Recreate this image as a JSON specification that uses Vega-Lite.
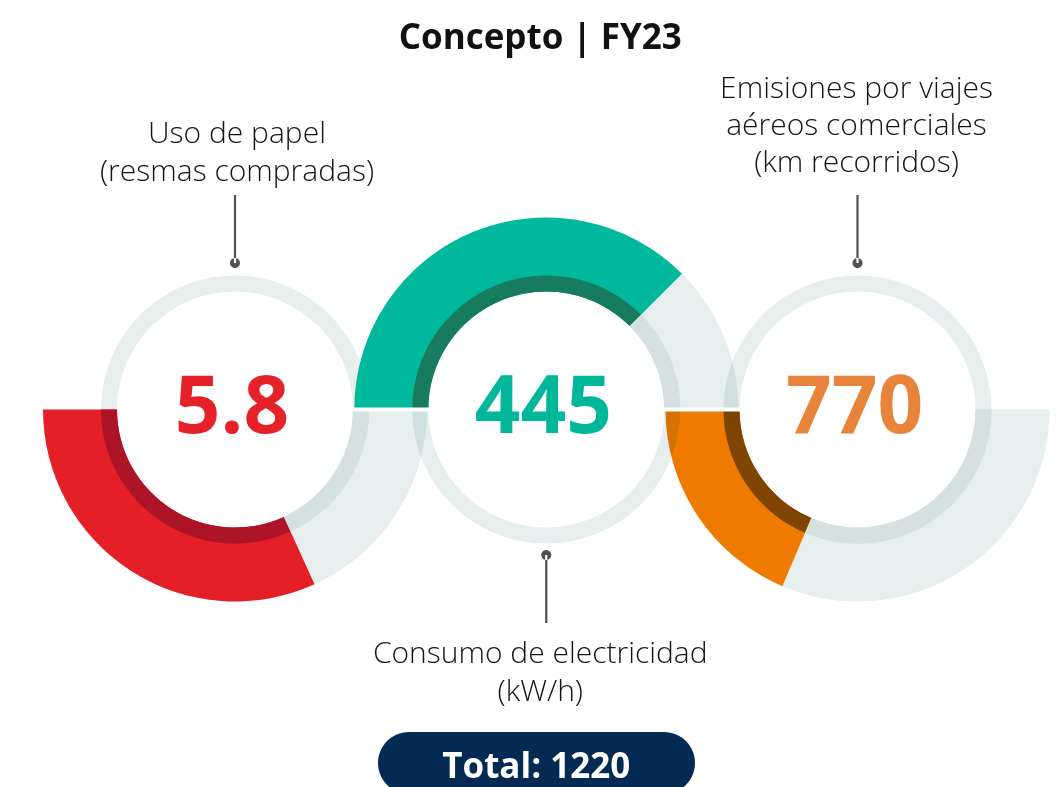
{
  "$schema": "https://vega.github.io/schema/vega-lite/v6.json",
  "width": 1057,
  "height": 755,
  "autosize": "none",
  "padding": {"top": 32, "left": 0, "right": 0, "bottom": 0},
  "background": "white",
  "config": {"view": {"stroke": null}, "font": "Open Sans"},
  "datasets": {
    "conceptos": [
      {"concepto": "Uso de papel", "etiqueta": "Uso de papel\n(resmas compradas)", "valor": 5.8, "avance": 0.636, "mitad": "inferior"},
      {"concepto": "Consumo de electricidad", "etiqueta": "Consumo de electricidad\n(kW/h)", "valor": 445, "avance": 0.75, "mitad": "superior"},
      {"concepto": "Emisiones por viajes aéreos comerciales", "etiqueta": "Emisiones por viajes\naéreos comerciales\n(km recorridos)", "valor": 770, "avance": 0.372, "mitad": "inferior"}
    ],
    "total": [{"etiqueta": "Total: 1220", "total": 1220}],
    "titulo": [{"titulo": "Concepto | FY23"}]
  },
  "data": {"name": "conceptos"},
  "encoding": {
    "x": {
      "field": "concepto",
      "type": "nominal",
      "scale": {"type": "point", "padding": 0, "domain": ["Uso de papel", "Consumo de electricidad", "Emisiones por viajes aéreos comerciales"], "range": [235, 857.5]},
      "axis": null
    }
  },
  "layer": [
    {
      "transform": [{"filter": "datum.mitad === 'inferior'"}],
      "mark": {"type": "arc", "innerRadius": 118, "outerRadius": 192, "color": "#E6EEEE"},
      "encoding": {
        "theta": {"field": "avance", "type": "quantitative", "stack": null, "scale": {"domain": [0, 1], "range": [4.712389, 1.570796]}},
        "theta2": {"datum": 1}
      }
    },
    {
      "transform": [{"filter": "datum.mitad === 'inferior'"}],
      "mark": {"type": "arc", "innerRadius": 118, "outerRadius": 192},
      "encoding": {
        "theta": {"field": "avance", "type": "quantitative", "stack": null, "scale": {"domain": [0, 1], "range": [4.712389, 1.570796]}},
        "theta2": {"datum": 0},
        "color": {"field": "concepto", "type": "nominal", "legend": null,
          "scale": {"domain": ["Uso de papel", "Consumo de electricidad", "Emisiones por viajes aéreos comerciales"], "range": ["#E51F27", "#00B99C", "#EE7A00"]}}
      }
    },
    {
      "transform": [{"filter": "datum.mitad === 'superior'"}],
      "mark": {"type": "arc", "innerRadius": 118, "outerRadius": 192, "color": "#E6EEEE"},
      "encoding": {
        "theta": {"field": "avance", "type": "quantitative", "stack": null, "scale": {"domain": [0, 1], "range": [4.712389, 7.853982]}},
        "theta2": {"datum": 1}
      }
    },
    {
      "transform": [{"filter": "datum.concepto === 'Uso de papel'"}],
      "mark": {"type": "arc", "innerRadius": 118, "outerRadius": 134, "theta": 0, "theta2": 6.2832, "color": "#E6EEEE", "blend": "multiply"}
    },
    {
      "transform": [{"filter": "datum.mitad === 'superior'"}],
      "mark": {"type": "arc", "innerRadius": 118, "outerRadius": 192},
      "encoding": {
        "theta": {"field": "avance", "type": "quantitative", "stack": null, "scale": {"domain": [0, 1], "range": [4.712389, 7.853982]}},
        "theta2": {"datum": 0},
        "color": {"field": "concepto", "type": "nominal", "legend": null,
          "scale": {"domain": ["Uso de papel", "Consumo de electricidad", "Emisiones por viajes aéreos comerciales"], "range": ["#E51F27", "#00B99C", "#EE7A00"]}}
      }
    },
    {
      "transform": [{"filter": "datum.concepto !== 'Uso de papel'"}],
      "mark": {"type": "arc", "innerRadius": 118, "outerRadius": 134, "theta": 0, "theta2": 6.2832, "color": "#E6EEEE", "blend": "multiply"}
    },
    {
      "transform": [{"filter": "datum.mitad === 'inferior'"}],
      "mark": {"type": "arc", "innerRadius": 118, "outerRadius": 134},
      "encoding": {
        "theta": {"field": "avance", "type": "quantitative", "stack": null, "scale": {"domain": [0, 1], "range": [4.712389, 1.570796]}},
        "theta2": {"datum": 0},
        "color": {"field": "concepto", "type": "nominal", "legend": null,
          "scale": {"domain": ["Uso de papel", "Consumo de electricidad", "Emisiones por viajes aéreos comerciales"], "range": ["#AE1428", "#177B5F", "#7F4500"]}}
      }
    },
    {
      "transform": [{"filter": "datum.mitad === 'inferior'"}],
      "mark": {"type": "arc", "innerRadius": 118, "outerRadius": 134, "color": "#D5E1E1"},
      "encoding": {
        "theta": {"field": "avance", "type": "quantitative", "stack": null, "scale": {"domain": [0, 1], "range": [4.712389, 1.570796]}},
        "theta2": {"datum": 1}
      }
    },
    {
      "transform": [{"filter": "datum.mitad === 'superior'"}],
      "mark": {"type": "arc", "innerRadius": 118, "outerRadius": 134},
      "encoding": {
        "theta": {"field": "avance", "type": "quantitative", "stack": null, "scale": {"domain": [0, 1], "range": [4.712389, 7.853982]}},
        "theta2": {"datum": 0},
        "color": {"field": "concepto", "type": "nominal", "legend": null,
          "scale": {"domain": ["Uso de papel", "Consumo de electricidad", "Emisiones por viajes aéreos comerciales"], "range": ["#AE1428", "#177B5F", "#7F4500"]}}
      }
    },
    {
      "transform": [{"filter": "datum.mitad === 'superior'"}],
      "mark": {"type": "arc", "innerRadius": 118, "outerRadius": 134, "color": "#D5E1E1"},
      "encoding": {
        "theta": {"field": "avance", "type": "quantitative", "stack": null, "scale": {"domain": [0, 1], "range": [4.712389, 7.853982]}},
        "theta2": {"datum": 1}
      }
    },
    {
      "transform": [{"filter": "datum.mitad === 'superior'"}],
      "mark": {"type": "point", "filled": true, "opacity": 1, "size": 40000, "color": "white", "strokeWidth": 0,
        "shape": "M -3.1125 -0.02 L 3.1125 -0.02 L 3.1125 0.02 L -3.1125 0.02 Z"}
    },
    {
      "mark": {"type": "point", "filled": true, "opacity": 1, "size": 40000, "color": "#4D5257", "strokeWidth": 0},
      "encoding": {
        "shape": {"field": "mitad", "type": "nominal", "legend": null,
          "scale": {"domain": ["inferior", "superior"],
            "range": [
              "M -0.011 -2.145 L 0.011 -2.145 L 0.011 -1.465 L -0.011 -1.465 Z M -0.05 -1.465 A 0.05 0.05 0 1 0 0.05 -1.465 A 0.05 0.05 0 1 0 -0.05 -1.465 Z",
              "M -0.011 1.455 L 0.011 1.455 L 0.011 2.135 L -0.011 2.135 Z M -0.05 1.455 A 0.05 0.05 0 1 0 0.05 1.455 A 0.05 0.05 0 1 0 -0.05 1.455 Z"
            ]}}
      }
    },
    {
      "mark": {"type": "text", "fontSize": 80, "fontWeight": "bold", "align": "center", "baseline": "alphabetic", "dy": 23.5, "dx": -3},
      "encoding": {
        "text": {"field": "valor", "type": "nominal"},
        "color": {"field": "concepto", "type": "nominal", "legend": null,
          "scale": {"domain": ["Uso de papel", "Consumo de electricidad", "Emisiones por viajes aéreos comerciales"], "range": ["#E52129", "#00B799", "#E8833B"]}}
      }
    },
    {
      "transform": [{"filter": "datum.concepto === 'Uso de papel'"}],
      "mark": {"type": "text", "fontSize": 30, "fontWeight": 300, "color": "#151515", "align": "center", "baseline": "alphabetic", "lineBreak": "\n", "lineHeight": 38, "dy": -266.5, "dx": 2},
      "encoding": {"text": {"field": "etiqueta", "type": "nominal"}}
    },
    {
      "transform": [{"filter": "datum.concepto === 'Emisiones por viajes aéreos comerciales'"}],
      "mark": {"type": "text", "fontSize": 30, "fontWeight": 300, "color": "#151515", "align": "center", "baseline": "alphabetic", "lineBreak": "\n", "lineHeight": 37, "dy": -312, "dx": -1},
      "encoding": {"text": {"field": "etiqueta", "type": "nominal"}}
    },
    {
      "transform": [{"filter": "datum.concepto === 'Consumo de electricidad'"}],
      "mark": {"type": "text", "fontSize": 30, "fontWeight": 300, "color": "#151515", "align": "center", "baseline": "alphabetic", "lineBreak": "\n", "lineHeight": 38, "dy": 253.5, "dx": -6},
      "encoding": {"text": {"field": "etiqueta", "type": "nominal"}}
    },
    {
      "data": {"name": "total"},
      "mark": {"type": "point", "filled": true, "opacity": 1, "size": 40000, "color": "#032A52", "strokeWidth": 0,
        "shape": "M -1.3725 3.225 L 1.1775 3.225 A 0.31 0.31 0 0 1 1.1775 3.845 L -1.3725 3.845 A 0.31 0.31 0 0 1 -1.3725 3.225 Z"},
      "encoding": {"x": {"datum": "Consumo de electricidad", "type": "nominal"}}
    },
    {
      "data": {"name": "total"},
      "mark": {"type": "text", "fontSize": 35, "fontWeight": "bold", "color": "white", "align": "center", "baseline": "alphabetic", "dy": 368.5, "dx": -10},
      "encoding": {
        "x": {"datum": "Consumo de electricidad", "type": "nominal"},
        "text": {"field": "etiqueta", "type": "nominal"}
      }
    },
    {
      "data": {"name": "titulo"},
      "mark": {"type": "text", "fontSize": 35, "fontWeight": "bold", "color": "#111111", "align": "center", "baseline": "alphabetic", "dy": -360.5, "dx": -6},
      "encoding": {
        "x": {"datum": "Consumo de electricidad", "type": "nominal"},
        "text": {"field": "titulo", "type": "nominal"}
      }
    }
  ],
  "resolve": {"scale": {"theta": "independent", "color": "independent"}}
}
